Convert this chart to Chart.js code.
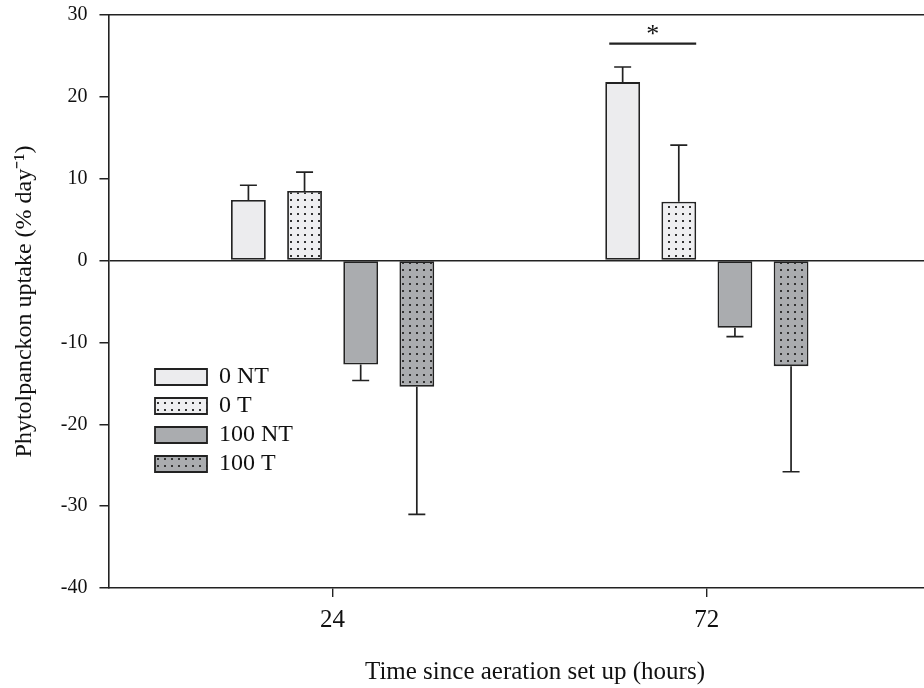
<!DOCTYPE html>
<html>
<head>
<meta charset="utf-8">
<script src="https://cdn.jsdelivr.net/npm/chart.js@4.4.1/dist/chart.umd.min.js"></script>
<style>
html,body{margin:0;padding:0;background:#fff;}
#wrap{width:924px;height:688px;}
</style>
</head>
<body>
<div id="wrap"><canvas id="c" width="924" height="688"></canvas></div>
<script>
// ---- data ----
const timePoints = [24, 72];
const seriesNames = ['0 NT', '0 T', '100 NT', '100 T'];
const mean0NT = [7.4, 21.8];
const mean0T = [8.5, 7.2];
const mean100NT = [-12.7, -8.2];
const mean100T = [-15.4, -12.9];
const err0NT = [1.8, 1.85];
const err0T = [2.3, 6.9];
const err100NT = [1.95, 1.1];
const err100T = [15.6, 12.9];
const yTicks = [30, 20, 10, 0, -10, -20, -30, -40];
const sigBars = [{ time: 72, fromSeries: 0, toSeries: 1, y: 26.5, text: '*' }];

const SERIF = '"Liberation Serif", "Times New Roman", serif';

function makeFill(bg, dotted) {
  if (!dotted) return bg;
  const c = document.createElement('canvas');
  c.width = 7; c.height = 7;
  const g = c.getContext('2d');
  g.fillStyle = bg; g.fillRect(0, 0, 7, 7);
  g.fillStyle = '#333'; g.fillRect(3, 3, 2, 2);
  return g.createPattern(c, 'repeat');
}

const means = [mean0NT, mean0T, mean100NT, mean100T];
const errs = [err0NT, err0T, err100NT, err100T];
const bgs = ['#ececee', '#efeff1', '#aaacaf', '#aaacaf'];
const dotted = [false, true, false, true];

const datasets = seriesNames.map((name, i) => ({
  label: name,
  data: timePoints.map((t, j) => ({ x: t, y: means[i][j] })),
  errors: errs[i],
  backgroundColor: makeFill(bgs[i], dotted[i]),
  borderColor: '#222',
  borderWidth: 1.8,
  borderSkipped: false,
  categoryPercentage: 0.6,
  barPercentage: 0.62
}));

const errorBarPlugin = {
  id: 'errorBars',
  afterDatasetsDraw(chart) {
    const ctx = chart.ctx;
    const ys = chart.scales.y;
    ctx.save();
    ctx.strokeStyle = '#222';
    ctx.lineWidth = 1.7;
    chart.data.datasets.forEach((ds, di) => {
      const meta = chart.getDatasetMeta(di);
      meta.data.forEach((bar, j) => {
        const v = ds.data[j].y;
        const e = ds.errors[j];
        const end = v >= 0 ? v + e : v - e;
        const y0 = ys.getPixelForValue(v);
        const y1 = ys.getPixelForValue(end);
        ctx.beginPath();
        ctx.moveTo(bar.x, y0); ctx.lineTo(bar.x, y1);
        ctx.moveTo(bar.x - 8.5, y1); ctx.lineTo(bar.x + 8.5, y1);
        ctx.stroke();
      });
    });
    sigBars.forEach(s => {
      const j = timePoints.indexOf(s.time);
      const b0 = chart.getDatasetMeta(s.fromSeries).data[j];
      const b1 = chart.getDatasetMeta(s.toSeries).data[j];
      const x1 = b0.x - b0.width / 2 + 4;
      const x2 = b1.x + b1.width / 2;
      const y = ys.getPixelForValue(s.y);
      ctx.lineWidth = 2.2;
      ctx.beginPath(); ctx.moveTo(x1, y); ctx.lineTo(x2, y); ctx.stroke();
      ctx.fillStyle = '#111';
      ctx.font = '26px ' + SERIF;
      ctx.textAlign = 'center';
      ctx.textBaseline = 'middle';
      ctx.fillText(s.text, (x1 + x2) / 2, y - 8);
    });
    ctx.restore();
  }
};

const legendPlace = {
  id: 'legendPlace',
  afterLayout(chart) {
    const lg = chart.legend;
    if (!lg) return;
    const w = lg.width, h = lg.height;
    lg.left = 150; lg.top = 360;
    lg.right = lg.left + w; lg.bottom = lg.top + h;
  }
};

new Chart(document.getElementById('c'), {
  type: 'bar',
  data: { datasets },
  plugins: [errorBarPlugin, legendPlace],
  options: {
    responsive: false,
    animation: false,
    layout: { padding: { top: 15, right: 0, left: 10, bottom: 1 } },
    plugins: {
      tooltip: { enabled: false },
      legend: {
        position: 'chartArea',
        align: 'start',
        labels: {
          boxWidth: 52,
          boxHeight: 16,
          padding: 5,
          color: '#111',
          font: { family: SERIF, size: 24 }
        }
      }
    },
    scales: {
      x: {
        type: 'linear',
        min: -4.75,
        max: 99.85,
        offset: false,
        afterBuildTicks(axis) { axis.ticks = timePoints.map(v => ({ value: v })); },
        ticks: { color: '#111', font: { family: SERIF, size: 25 }, padding: 8, maxRotation: 0 },
        grid: { offset: false, drawOnChartArea: false, drawTicks: true, tickLength: 9, tickColor: '#222', color: '#222', lineWidth: 1.4 },
        border: { display: true, color: '#222', width: 1.6 },
        title: { display: true, text: '      Time since aeration set up (hours)', color: '#111', font: { family: SERIF, size: 25 }, padding: { top: 14, bottom: 0 } }
      },
      xTop: {
        type: 'linear',
        position: 'top',
        min: -4.75,
        max: 99.85,
        ticks: { display: false },
        grid: { display: false, drawTicks: false },
        border: { display: true, color: '#222', width: 1.6 },
        afterFit(axis) { axis.height = 0; }
      },
      y: {
        min: -40,
        max: 30,
        afterBuildTicks(axis) { axis.ticks = yTicks.map(v => ({ value: v })); },
        ticks: { color: '#111', font: { family: SERIF, size: 20, lineHeight: 0.25 }, padding: 12 },
        grid: {
          drawOnChartArea: true,
          drawTicks: true,
          tickLength: 9,
          tickColor: '#222',
          color: (c) => (c.tick && c.tick.value === 0 ? '#222' : 'rgba(0,0,0,0)'),
          lineWidth: 1.5
        },
        border: { display: true, color: '#222', width: 1.6 },
        title: { display: true, text: 'Phytolpanckon uptake (% day\u207B\u00B9)', color: '#111', font: { family: SERIF, size: 24 }, padding: { top: 0, bottom: 10 } }
      }
    }
  }
});
</script>
</body>
</html>
